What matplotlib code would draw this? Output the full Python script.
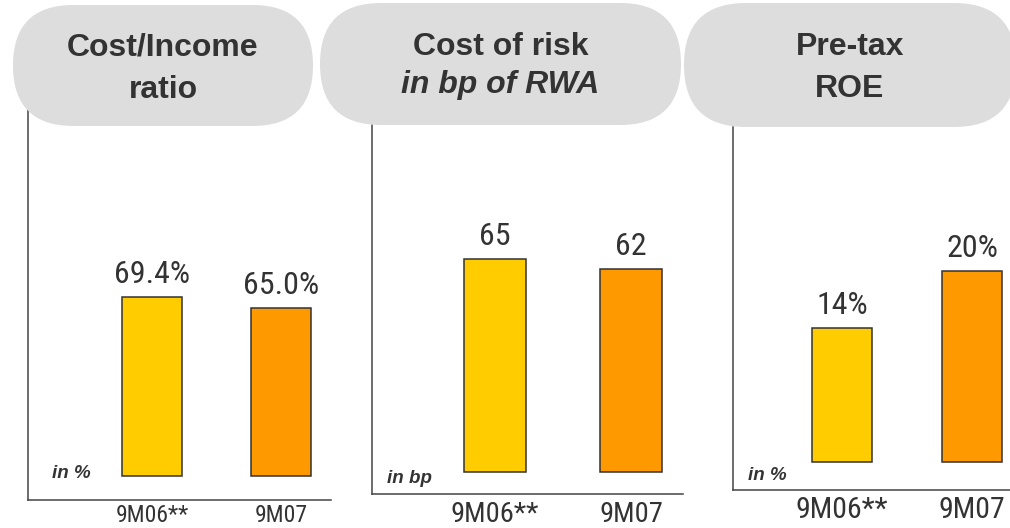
import matplotlib
matplotlib.use("Agg")
import matplotlib.pyplot as plt
from matplotlib.patches import FancyBboxPatch
from matplotlib import font_manager

# data
categories = ["9M06**", "9M07"]
cost_income = [69.4, 65.0]
cost_of_risk = [65, 62]
pretax_roe = [14, 20]

titles = [("Cost/Income", "ratio"), ("Cost of risk", "in bp of RWA"), ("Pre-tax", "ROE")]
units = ["in %", "in bp", "in %"]
bar_colors = ["#FFCC00", "#FF9900"]
text_col = "#333333"

W, H = 1010, 528

installed = {f.name for f in font_manager.fontManager.ttflist}
narrow = "DejaVu Sans"
for name in ["Liberation Sans Narrow", "Roboto Condensed", "DejaVu Sans Condensed"]:
    if name in installed:
        narrow = name
        break

fig = plt.figure(figsize=(W / 100, H / 100), dpi=100)


def px_rect(x0, y0, x1, y1):
    # pixel box (top-left origin) -> figure fraction rect
    return [x0 / W, 1 - y1 / H, (x1 - x0) / W, (y1 - y0) / H]


panels = [
    dict(vals=cost_income, fmt="{:.1f}%", rect=(28, 105, 331, 500), ylim=(-9.3, 143.8),
         xlim=(-0.965, 1.384), width=0.465, tick_fs=17, pad=3, unit_off=(24, 27)),
    dict(vals=cost_of_risk, fmt="{:d}", rect=(372, 125, 683, 494), ylim=(-6.7, 105.9),
         xlim=(-0.904, 1.382), width=0.456, tick_fs=20.5, pad=5, unit_off=(15, 16)),
    dict(vals=pretax_roe, fmt="{:d}%", rect=(733, 127, 1010, 490), ylim=(-2.93, 35.0),
         xlim=(-0.838, 1.292), width=0.46, tick_fs=21.5, pad=4, unit_off=(15, 15)),
]

for p, unit in zip(panels, units):
    ax = fig.add_axes(px_rect(*p["rect"]))
    x = range(len(categories))
    bars = ax.bar(x, p["vals"], width=p["width"], color=bar_colors,
                  edgecolor="#333333", linewidth=1.1, zorder=3)
    for b, v in zip(bars, p["vals"]):
        ax.annotate(p["fmt"].format(v), (b.get_x() + b.get_width() / 2, b.get_height()),
                    xytext=(0, 10), textcoords="offset points", ha="center", va="baseline",
                    fontsize=23, family=narrow, color=text_col)
    ax.set_xlim(*p["xlim"])
    ax.set_ylim(*p["ylim"])
    ax.set_xticks(list(x))
    ax.set_xticklabels(categories, fontsize=p["tick_fs"], family=narrow, color=text_col)
    ax.set_yticks([])
    ax.tick_params(axis="x", length=0, pad=p["pad"])
    for s in ["top", "right"]:
        ax.spines[s].set_visible(False)
    for s in ["left", "bottom"]:
        ax.spines[s].set_color("#444444")
        ax.spines[s].set_linewidth(1.1)
    ax.annotate(unit, (0, 0), xycoords="axes fraction",
                xytext=(p["unit_off"][0] / 1.389, p["unit_off"][1] / 1.389),
                textcoords="offset points", ha="left", va="center",
                fontsize=13.5, family="Liberation Sans", fontweight="bold",
                fontstyle="italic", color=text_col)

# header pills on a pixel-space overlay
top = fig.add_axes([0, 0, 1, 1], zorder=5)
top.set_xlim(0, W)
top.set_ylim(H, 0)
top.axis("off")

pills = [(13, 5, 313, 126), (320, 3, 681, 125), (684, 3, 1016, 127)]
baselines = [(55, 98), (55, 93), (55, 97)]
for (x0, y0, x1, y1), (l1, l2), (b1, b2) in zip(pills, titles, baselines):
    r = (y1 - y0) / 2
    top.add_patch(FancyBboxPatch((x0, y0), x1 - x0, y1 - y0,
                                 boxstyle=f"round,pad=0,rounding_size={r}",
                                 facecolor="#DDDDDD", edgecolor="none"))
    cx = (x0 + x1) / 2
    top.text(cx, b1, l1, ha="center", va="baseline", fontsize=23,
             family="Liberation Sans", fontweight="bold", color=text_col)
    style = "italic" if l2.startswith("in ") else "normal"
    top.text(cx, b2, l2, ha="center", va="baseline", fontsize=23,
             family="Liberation Sans", fontweight="bold", fontstyle=style, color=text_col)

fig.savefig("out.png", dpi=100)
